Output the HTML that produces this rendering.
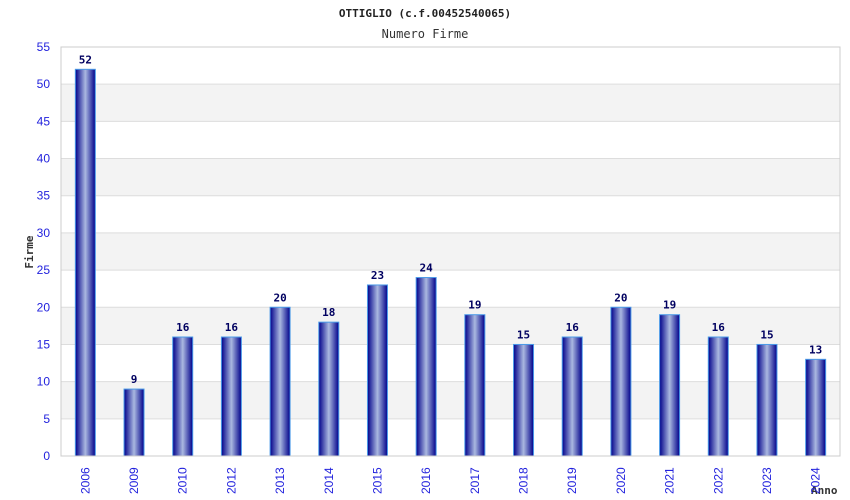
<!DOCTYPE html>
<html><head><meta charset="utf-8"><style>
body{margin:0;background:#fff;}
svg{display:block;font-family:"DejaVu Sans Mono","Liberation Mono",monospace;}
.tick{font-family:"Liberation Sans",sans-serif;}
</style></head><body>
<svg id="chart" width="850" height="500">
<defs>
<linearGradient id="bg" x1="0" x2="1" y1="0" y2="0">
<stop offset="0" stop-color="#00008a"/><stop offset="0.5" stop-color="#aab8e0"/><stop offset="1" stop-color="#00008a"/>
</linearGradient>
</defs>
<text x="425" y="17" text-anchor="middle" font-size="11" font-weight="bold" fill="#222">OTTIGLIO (c.f.00452540065)</text>
<text x="425" y="38" text-anchor="middle" font-size="12" fill="#333">Numero Firme</text>
<text transform="translate(33,252) rotate(-90)" text-anchor="middle" font-size="11" font-weight="bold" fill="#333">Firme</text>
<text x="811" y="494" font-size="11" font-weight="bold" fill="#333">Anno</text>
<g id="grid"></g><g id="bars"></g><g id="axes"></g>
</svg>
<script>
const categories=["2006","2009","2010","2012","2013","2014","2015","2016","2017","2018","2019","2020","2021","2022","2023","2024"];
const values=[52,9,16,16,20,18,23,24,19,15,16,20,19,16,15,13];
const yTicks=[0,5,10,15,20,25,30,35,40,45,50,55];
const L=61,R=840,T=47,B=456,yMax=55;
const ns="http://www.w3.org/2000/svg";
function y(v){return B-(v/yMax)*(B-T);}
const step=(R-L)/categories.length;
function xc(i){return L+step*(i+0.5);}
function mk(tag,attrs,parent){const e=document.createElementNS(ns,tag);for(const k in attrs)e.setAttribute(k,attrs[k]);parent.appendChild(e);return e;}
const grid=document.getElementById('grid'),bars=document.getElementById('bars'),axes=document.getElementById('axes');
for(let i=0;i<yTicks.length-1;i++){
  const r=mk('rect',{x:L,y:y(yTicks[i+1]),width:R-L,height:y(yTicks[i])-y(yTicks[i+1]),fill:(i%2==1)?'#f3f3f3':'#fff'},grid);
  
  
}
yTicks.forEach(t=>{
  const l=mk('line',{x1:L,x2:R,y1:y(t),y2:y(t),stroke:'#ddd','stroke-width':1},grid);
  
  
  const tx=mk('text',{x:L-11,y:y(t)+4,'text-anchor':'end','font-size':'12',fill:'#2222dd',class:'tick'},axes);
  tx.textContent=t;
  
  
});
const frame=mk('rect',{x:L,y:T,width:R-L,height:B-T,fill:'none',stroke:'#ccc'},axes);


categories.forEach((c,i)=>{
  const bw=20,x=xc(i)-bw/2;
  const b=mk('rect',{x:x,y:y(values[i]),width:bw,height:B-y(values[i]),fill:'url(#bg)',stroke:'#4a9ae8','stroke-width':1},bars);
  
  
  const v=mk('text',{x:xc(i),y:y(values[i])-6,'text-anchor':'middle','font-size':'11','font-weight':'bold',fill:'#000060'},bars);
  v.textContent=values[i];
  
  
  const lx=xc(i)+4,ly=B+38;
  const lt=mk('text',{x:lx,y:ly,transform:`rotate(-90 ${lx} ${ly})`,'font-size':'12',fill:'#2222dd',class:'tick'},axes);
  lt.textContent=c;
  
  
});
</script>
</body></html>
